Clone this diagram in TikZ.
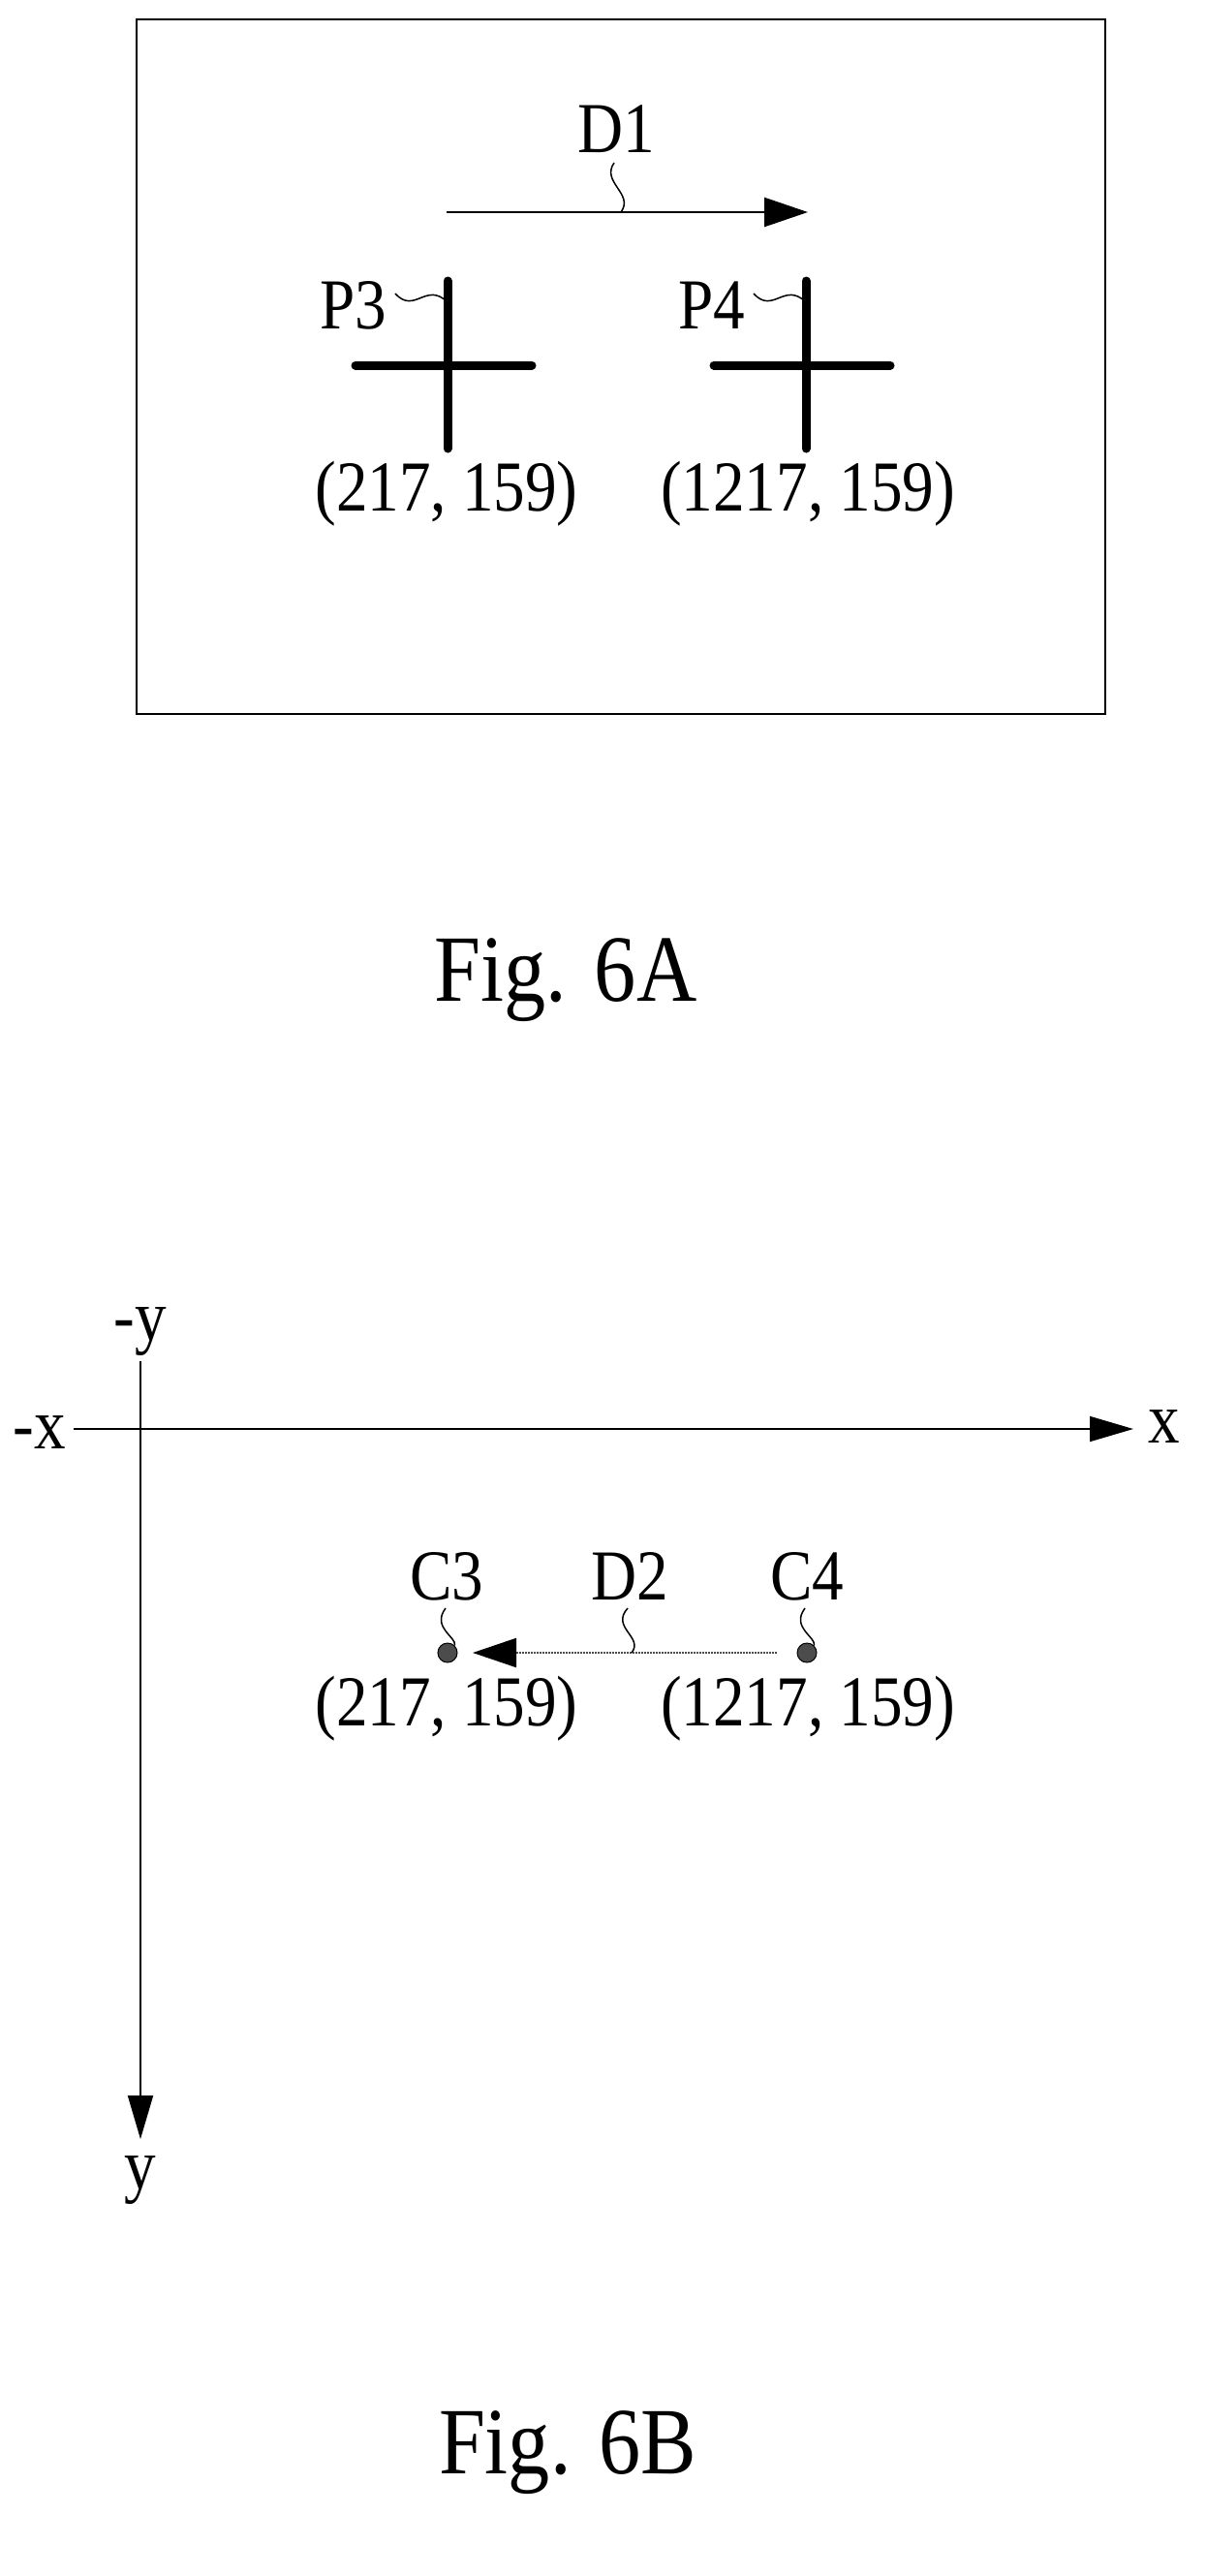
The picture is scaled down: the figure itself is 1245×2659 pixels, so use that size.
\documentclass[tikz,border=0pt]{standalone}
\usepackage{fontspec}
\setmainfont{Liberation Serif}[FakeStretch=0.88]
\usetikzlibrary{arrows.meta}
\begin{document}
\begin{tikzpicture}[x=1pt,y=-1pt,
  lbl/.style={font=\fontsize{74}{80}\selectfont, inner sep=0pt},
  figl/.style={font=\fontsize{98}{110}\selectfont, inner sep=0pt},
  thin line/.style={line width=2pt},
  crossline/.style={line width=9pt, line cap=round},
  lead/.style={line width=1.5pt},
  arr/.style={-{Triangle[length=45pt,width=30pt]}, line width=2.5pt},
  dotc/.style={circle, fill=black!70, draw=black, line width=1pt, minimum size=20pt, inner sep=0pt}]
\useasboundingbox (0,0) rectangle (1245,2659);
% Fig 6A
\draw[thin line] (141,20) rectangle (1141,737);
\coordinate (d1s) at (461,219); \coordinate (d1e) at (834,219);
\draw[arr] (d1s) -- (d1e);
\node[lbl] (D1) at (636,133) {D1};
\coordinate (d1a) at (634,168); \coordinate (d1b) at (641,219);
\draw[lead] (d1a) .. controls (620,188) and (655,200) .. (d1b);
% crosses
\draw[crossline] (462,290) -- (462,463) (367,377) -- (549,377);
\draw[crossline] (832,290) -- (832,463) (737,377) -- (919,377);
\node[lbl] (P3) at (365,315) {P3};
\node[lbl] (P4) at (735,315) {P4};
\coordinate (p3a) at (408,303); \coordinate (p3b) at (462,312);
\coordinate (p4a) at (778,303); \coordinate (p4b) at (832,312);
\draw[lead] (p3a) .. controls (428,325) and (440,290) .. (p3b);
\draw[lead] (p4a) .. controls (798,325) and (810,290) .. (p4b);
\node[lbl] (c3a) at (461,510) {(217, 159)};
\node[lbl] (c4a) at (834,510) {(1217, 159)};
\node[figl] (f6a) at (584,1012) {Fig. 6A};
% Fig 6B axes
\coordinate (xl) at (76,1475); \coordinate (xr) at (1170,1475);
\coordinate (yt) at (145,1405); \coordinate (yb) at (145,2208);
\draw[-{Triangle[length=45pt,width=26pt]}, line width=2pt] (xl) -- (xr);
\draw[-{Triangle[length=45pt,width=26pt]}, line width=2pt] (yt) -- (yb);
\node[lbl] (my) at (145,1374) {-y};
\node[lbl, anchor=east] (mx) at (68,1478) {-x};
\node[lbl, anchor=west] (px) at (1185,1472) {x};
\node[lbl] (py) at (145,2250) {y};
% points
\node[dotc] (C3d) at (462,1706) {};
\node[dotc] (C4d) at (833,1706) {};
\draw[line width=2pt, black!70, densely dotted, -{Triangle[length=45pt,width=30pt,sep=0pt,black]}] (802,1706) -- (488,1706);
\node[lbl] (C3) at (461,1627) {C3};
\node[lbl] (D2) at (650,1627) {D2};
\node[lbl] (C4) at (833,1627) {C4};
\draw[lead] (460,1660) .. controls (445,1680) and (472,1690) .. (C3d.north east);
\draw[lead] (648,1660) .. controls (630,1680) and (665,1690) .. (652,1706);
\draw[lead] (831,1660) .. controls (816,1680) and (843,1690) .. (C4d.north east);
\node[lbl] (c3b) at (461,1764) {(217, 159)};
\node[lbl] (c4b) at (834,1764) {(1217, 159)};
\node[figl] (f6b) at (586,2532) {Fig. 6B};
\end{tikzpicture}
\end{document}
